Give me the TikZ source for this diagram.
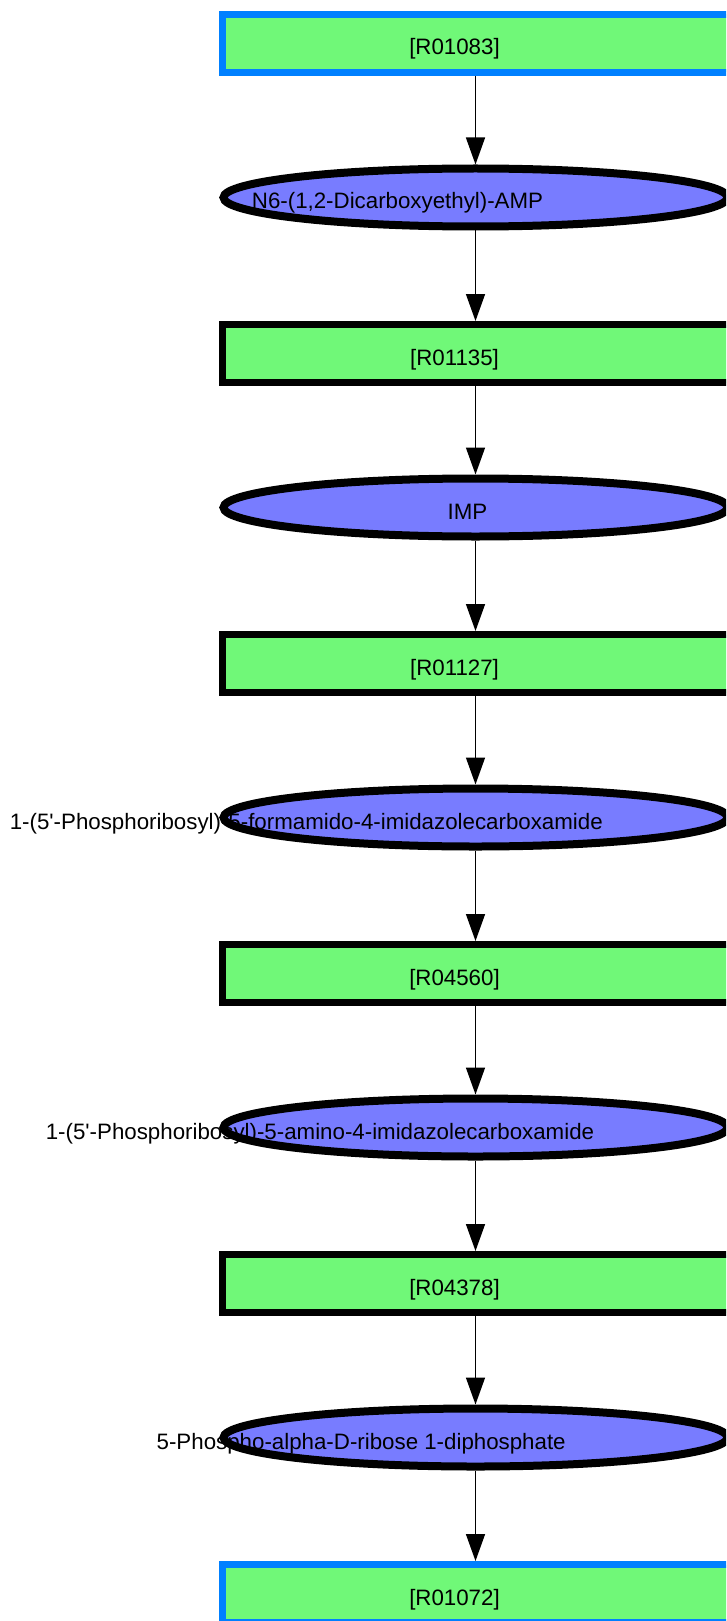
\documentclass[tikz,border=0pt]{standalone}
\usepackage{fontspec}
\setmainfont{Liberation Sans}
\usetikzlibrary{arrows.meta,shapes.geometric}
\definecolor{rxnfill}{RGB}{112,248,120}
\definecolor{cpdfill}{RGB}{120,124,255}
\definecolor{keyblue}{RGB}{0,128,255}

\begin{document}
\begin{tikzpicture}[x=1pt,y=-1pt,
  rxn/.style={rectangle, draw=black, line width=7pt, fill=rxnfill,
    minimum width=600pt, minimum height=58pt, inner sep=0pt, outer sep=3.5pt},
  keyrxn/.style={rxn, draw=keyblue},
  cpd/.style={ellipse, fill=cpdfill, minimum width=504pt, minimum height=58pt,
    inner sep=0pt, outer sep=4pt},
  cpdline/.style={draw=black, line width=8pt},
  lbl/.style={anchor=base, inner sep=0pt, font=\fontsize{22.3}{26}\selectfont},
  flow/.style={line width=1.5pt, -{Triangle[length=27pt,width=19pt]}}
]
\fill[white] (0,0) rectangle (726,1621);
\useasboundingbox (0,0) rectangle (726,1621);
\clip (0,0) rectangle (726,1621);

% reaction boxes (they run past the right edge)
\node[keyrxn] (r1) at (522,43.5) {};
\node[rxn]    (r2) at (522,353.5) {};
\node[rxn]    (r3) at (522,663.5) {};
\node[rxn]    (r4) at (522,973.5) {};
\node[rxn]    (r5) at (522,1283.5) {};
\node[keyrxn] (r6) at (522,1593.5) {};

\node[lbl] (tr1) at (454.5,55) {[R01083]};
\node[lbl] (tr2) at (454.5,365) {[R01135]};
\node[lbl] (tr3) at (454.5,675) {[R01127]};
\node[lbl] (tr4) at (454.5,985) {[R04560]};
\node[lbl] (tr5) at (454.5,1295) {[R04378]};
\node[lbl] (tr6) at (454.5,1605) {[R01072]};

% compounds: fill, then label, then outline on top
\node[cpd] (c1) at (475.5,197.5) {};
\node[cpd] (c2) at (475.5,507.5) {};
\node[cpd] (c3) at (475.5,817.5) {};
\node[cpd] (c4) at (475.5,1127.5) {};
\node[cpd] (c5) at (475.5,1437.5) {};

\node[lbl] (tc1) at (397.5,209) {N6-(1,2-Dicarboxyethyl)-AMP};
\node[lbl] (tc2) at (467.5,519) {IMP};
\node[lbl] (tc3) at (306.3,829) {1-(5\textquotesingle-Phosphoribosyl)-5-formamido-4-imidazolecarboxamide};
\node[lbl] (tc4) at (320,1139) {1-(5\textquotesingle-Phosphoribosyl)-5-amino-4-imidazolecarboxamide};
\node[lbl] (tc5) at (361.2,1449) {5-Phospho-alpha-D-ribose 1-diphosphate};

\foreach \c in {c1,c2,c3,c4,c5}
  \draw[cpdline] (\c.center) ellipse [x radius=252pt, y radius=29pt];

% connectors, all on the compounds' vertical axis
\draw[flow] (r1.south -| c1) -- (c1.north);
\draw[flow] (c1.south) -- (c1.south |- r2.north);
\draw[flow] (r2.south -| c2) -- (c2.north);
\draw[flow] (c2.south) -- (c2.south |- r3.north);
\draw[flow] (r3.south -| c3) -- (c3.north);
\draw[flow] (c3.south) -- (c3.south |- r4.north);
\draw[flow] (r4.south -| c4) -- (c4.north);
\draw[flow] (c4.south) -- (c4.south |- r5.north);
\draw[flow] (r5.south -| c5) -- (c5.north);
\draw[flow] (c5.south) -- (c5.south |- r6.north);
\end{tikzpicture}
\end{document}
